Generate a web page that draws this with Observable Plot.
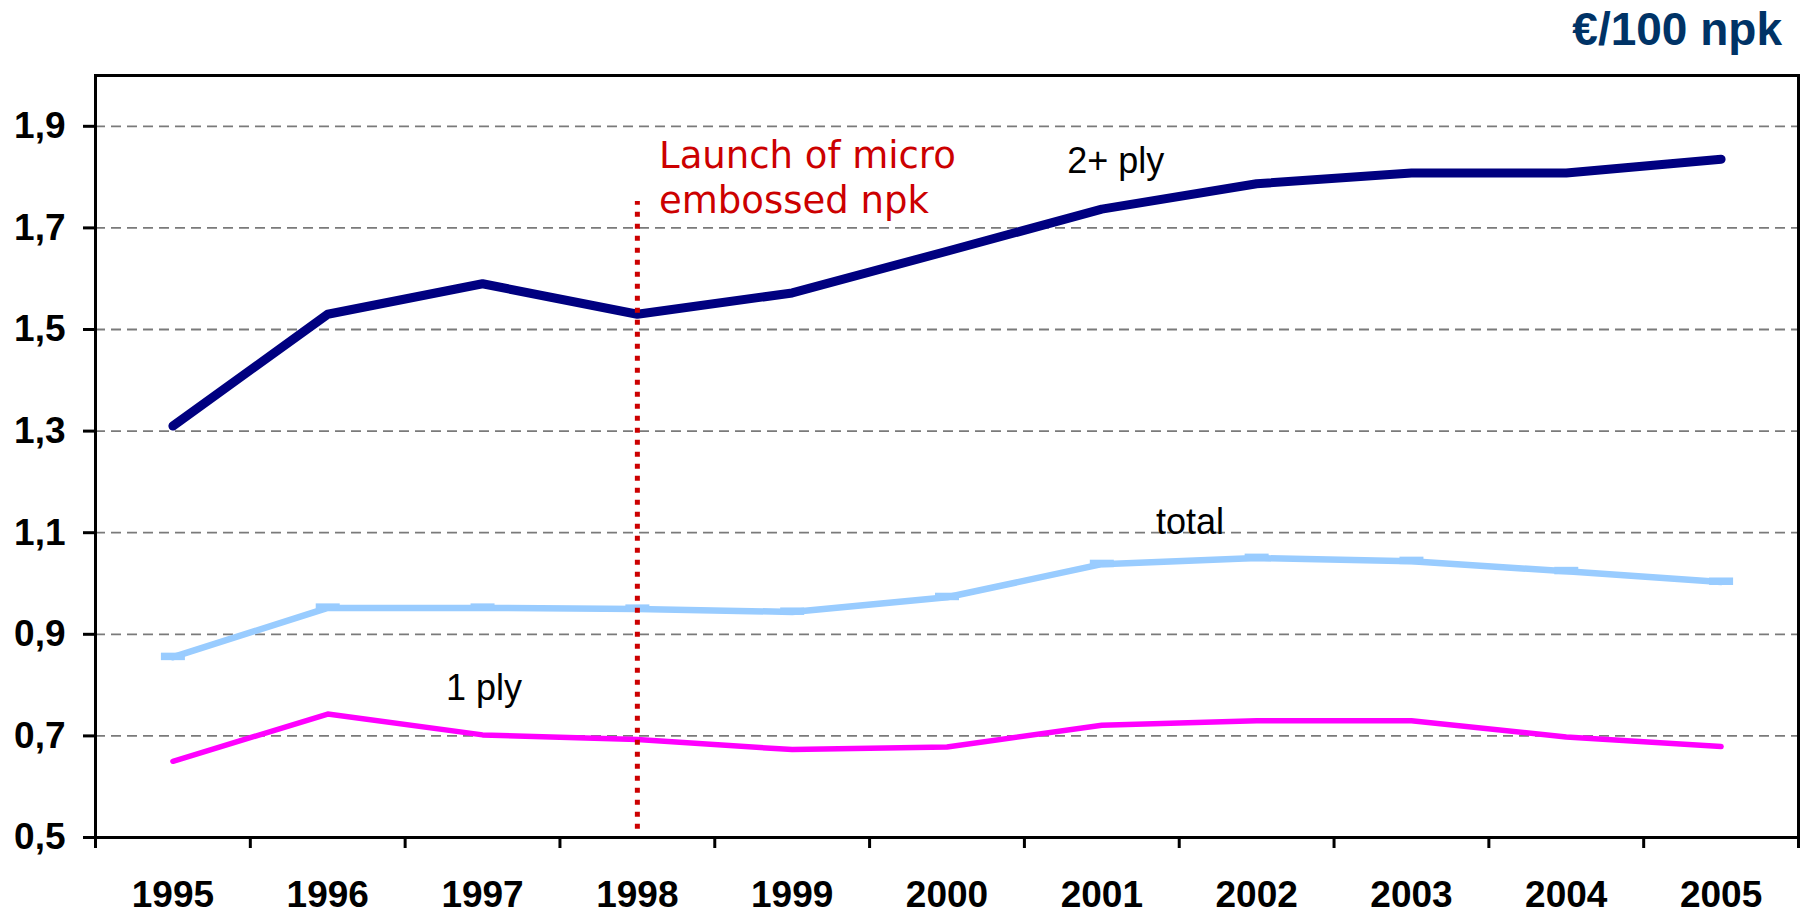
<!DOCTYPE html>
<html><head><meta charset="utf-8">
<script src="https://cdn.jsdelivr.net/npm/d3@7"></script>
<script src="https://cdn.jsdelivr.net/npm/@observablehq/plot@0.6"></script>
<style>
html,body{margin:0;padding:0;background:#fff;overflow:hidden;}
#wrap{position:relative;width:1810px;height:913px;}
#title{position:absolute;right:28px;top:6px;font:bold 46px "Liberation Sans",Arial,sans-serif;line-height:46px;color:#003366;}
#chart g[aria-label="x-axis tick label"] text, #chart g[aria-label="y-axis tick label"] text{font-weight:bold;}
</style></head><body><div id="wrap"><div id="title">€/100 npk</div><div id="chart"></div></div>
<script>
// categories
const years = [1995, 1996, 1997, 1998, 1999, 2000, 2001, 2002, 2003, 2004, 2005];
// series values (€/100 npk)
const ply2Values  = [1.31, 1.53, 1.59, 1.53, 1.572, 1.654, 1.737, 1.787, 1.808, 1.808, 1.835];
const totalValues = [0.855, 0.952, 0.952, 0.950, 0.944, 0.973, 1.038, 1.050, 1.044, 1.024, 1.003];
const ply1Values  = [0.650, 0.743, 0.702, 0.693, 0.673, 0.678, 0.721, 0.730, 0.730, 0.698, 0.679];
// axis ticks
const yTicks = [0.5, 0.7, 0.9, 1.1, 1.3, 1.5, 1.7, 1.9];
const gridValues = [0.7, 0.9, 1.1, 1.3, 1.5, 1.7, 1.9];
// series labels (text, year position, value position)
const labelTexts  = ["2+ ply", "total", "1 ply"];
const labelYears  = [2001.09, 2001.57, 1997.01];
const labelValues = [1.809, 1.098, 0.770];
// launch annotation
const launchYear = 1998;
const launchRange = [0.516, 1.752];
const launchText = "Launch of micro\nembossed npk";
const launchTextYear = 1998.14;
const launchTextValue = 1.730;

const toRows = vals => years.map((year, i) => ({year, value: vals[i]}));
const edges = years.map(y => y - 0.5).concat([years[years.length - 1] + 0.5]);
const labels = labelTexts.map((text, i) => ({text, x: labelYears[i], y: labelValues[i]}));

const dashSymbol = {
  draw(ctx) { ctx.moveTo(-12, -4.5); ctx.lineTo(12, -4.5); ctx.lineTo(12, 3); ctx.lineTo(-12, 3); ctx.closePath(); }
};

const chart = Plot.plot({
  width: 1810, height: 913,
  marginLeft: 95, marginRight: 12, marginTop: 75, marginBottom: 76,
  x: {type: "linear", domain: [edges[0], edges[edges.length - 1]]},
  y: {domain: [0.5, 2.0]},
  style: {fontFamily: '"Liberation Sans", Arial, sans-serif', fontSize: "37px", background: "#fff", color: "#000", overflow: "visible"},
  marks: [
    Plot.ruleY(gridValues, {stroke: "#7a7a7a", strokeWidth: 1.8, strokeDasharray: "10,6"}),
    Plot.line(toRows(ply1Values), {x: "year", y: "value", stroke: "#FF00FF", strokeWidth: 5.5, strokeLinejoin: "round", strokeLinecap: "round"}),
    Plot.line(toRows(totalValues), {x: "year", y: "value", stroke: "#99CCFF", strokeWidth: 6.5, strokeLinejoin: "round"}),
    Plot.dot(toRows(totalValues), {x: "year", y: "value", symbol: dashSymbol, fill: "#99CCFF", stroke: null}),
    Plot.line(toRows(ply2Values), {x: "year", y: "value", stroke: "#000080", strokeWidth: 9, strokeLinejoin: "round", strokeLinecap: "round"}),
    Plot.ruleX([launchYear], {x: d => d, y1: () => launchRange[0], y2: () => launchRange[1], stroke: "#CC0000", strokeWidth: 5, strokeDasharray: "5,7"}),
    Plot.text([launchText], {x: () => launchTextYear, y: () => launchTextValue, text: d => d, textAnchor: "start", lineAnchor: "bottom", lineHeight: 1.2, fontFamily: '"DejaVu Sans", Verdana, sans-serif', fontSize: 37, fill: "#CC0000"}),
    Plot.text(labels, {x: "x", y: "y", text: "text", textAnchor: "middle", lineAnchor: "bottom", fontSize: 36, fill: "#000"}),
    Plot.axisX(years, {tickSize: 0, tickPadding: 43, tickFormat: d => String(d), fontSize: 37, fontWeight: "bold", label: null}),
    Plot.axisX(edges, {tickSize: 11, tickFormat: () => "", strokeWidth: 3, label: null}),
    Plot.axisY(yTicks, {tickSize: 12, tickPadding: 18, tickFormat: d => d.toFixed(1).replace(".", ","), strokeWidth: 3, fontSize: 37, fontWeight: "bold", label: null}),
    Plot.frame({stroke: "#000", strokeWidth: 3})
  ]
});
document.getElementById("chart").appendChild(chart);
</script>
</body></html>
